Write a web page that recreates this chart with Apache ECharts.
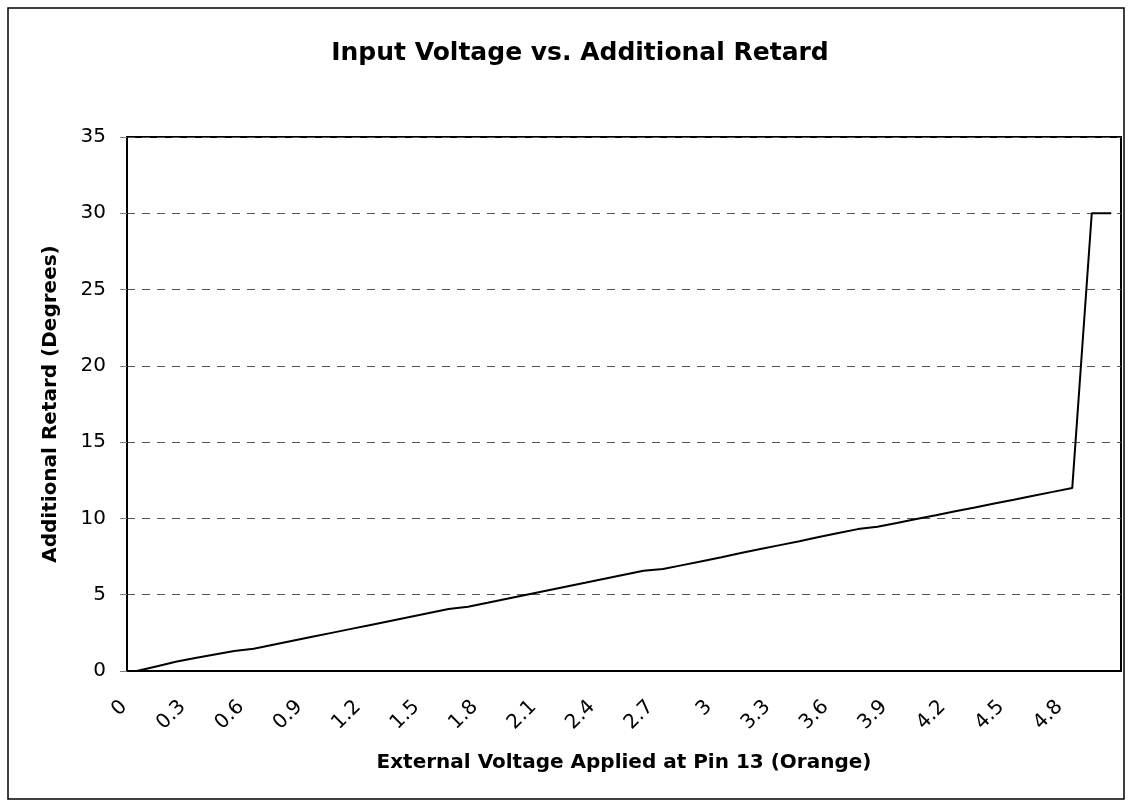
<!DOCTYPE html>
<html>
<head>
<meta charset="utf-8">
<script src="https://cdn.jsdelivr.net/npm/echarts@6/dist/echarts.min.js"></script>
<style>
    html, body { margin: 0; padding: 0; background: #fff; }
    #chart { width: 1133px; height: 807px; }
</style>
</head>
<body>
<div id="chart"></div>
<script>
// External voltage (V) applied at pin 13, one category per 0.1 V
const voltages = [
    "0", "0.1", "0.2", "0.3", "0.4", "0.5", "0.6", "0.7", "0.8", "0.9",
    "1", "1.1", "1.2", "1.3", "1.4", "1.5", "1.6", "1.7", "1.8", "1.9",
    "2", "2.1", "2.2", "2.3", "2.4", "2.5", "2.6", "2.7", "2.8", "2.9",
    "3", "3.1", "3.2", "3.3", "3.4", "3.5", "3.6", "3.7", "3.8", "3.9",
    "4", "4.1", "4.2", "4.3", "4.4", "4.5", "4.6", "4.7", "4.8", "4.9",
    "5",
];

// Additional retard (degrees)
const retard = [
    0, 0.3, 0.6, 0.85, 1.08, 1.31, 1.46, 1.72, 1.98, 2.24,
    2.5, 2.76, 3.02, 3.28, 3.54, 3.8, 4.06, 4.21, 4.47, 4.74,
    5.0, 5.26, 5.52, 5.78, 6.05, 6.31, 6.57, 6.68, 6.94, 7.2,
    7.46, 7.73, 7.99, 8.25, 8.51, 8.78, 9.04, 9.3, 9.45, 9.7,
    9.96, 10.21, 10.47, 10.72, 10.98, 11.23, 11.49, 11.74, 12.0, 30,
    30,
];

const fontFamily = "'DejaVu Sans', 'Liberation Sans', Arial, sans-serif";

let chart = echarts.init(document.getElementById("chart"), null, { renderer: "canvas" });

let options = {
    animation: false,
    backgroundColor: "#fff",
    title: {
        text: "Input Voltage vs. Additional Retard",
        left: 575,
        textAlign: "center",
        top: 36,
        textStyle: {
            fontFamily: fontFamily,
            fontSize: 25,
            fontWeight: "bold",
            color: "#000",
        },
    },
    grid: {
        left: 127,
        top: 137,
        right: 12,
        bottom: 136,
        show: true,
        borderColor: "#000",
        borderWidth: 2,
        backgroundColor: "#fff",
    },
    xAxis: {
        type: "category",
        data: voltages,
        boundaryGap: true,
        name: "External Voltage Applied at Pin 13 (Orange)",
        nameLocation: "middle",
        nameGap: 82,
        nameTextStyle: {
            fontFamily: fontFamily,
            fontSize: 20,
            fontWeight: "bold",
            color: "#000",
        },
        axisLine: {
            lineStyle: { color: "#000", width: 2 },
        },
        axisTick: {
            interval: 0,
            length: 7,
            lineStyle: { color: "#808080", width: 1 },
        },
        axisLabel: {
            interval: 2,
            rotate: 45,
            margin: 20,
            padding: [0, 18, 0, 0],
            fontFamily: fontFamily,
            fontSize: 20,
            color: "#000",
        },
        splitLine: { show: false },
    },
    yAxis: {
        type: "value",
        min: 0,
        max: 35,
        interval: 5,
        name: "Additional Retard (Degrees)",
        nameLocation: "middle",
        nameGap: 66,
        nameTextStyle: {
            fontFamily: fontFamily,
            fontSize: 20,
            fontWeight: "bold",
            color: "#000",
        },
        axisLine: {
            show: true,
            lineStyle: { color: "#000", width: 2 },
        },
        axisTick: {
            show: true,
            length: 7,
            lineStyle: { color: "#808080", width: 1 },
        },
        axisLabel: {
            margin: 21,
            fontFamily: fontFamily,
            fontSize: 20,
            color: "#000",
        },
        splitLine: {
            lineStyle: { color: "#555", type: [8, 7], width: 1 },
        },
    },
    graphic: [
        {
            type: "rect",
            shape: { x: 8, y: 8, width: 1116, height: 791 },
            style: { fill: null, stroke: "#000", lineWidth: 1.5 },
            silent: true,
        },
    ],
    series: [
        {
            name: "Additional Retard",
            type: "line",
            data: retard,
            showSymbol: false,
            symbol: "none",
            lineStyle: { color: "#000", width: 2 },
        },
    ],
};

chart.setOption(options);
</script>
</body>
</html>
